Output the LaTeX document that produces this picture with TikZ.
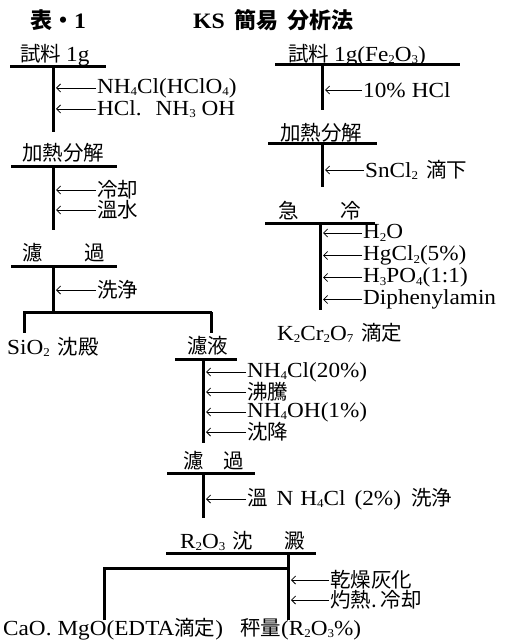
\documentclass[tikz,border=0pt]{standalone}
\usepackage{fontspec}
\setmainfont{Liberation Serif}[FakeStretch=1.08]
\newfontfamily\cjk{Noto Sans CJK JP}
\usetikzlibrary{arrows.meta}
\newcommand\jp[1]{{\cjk\fontsize{20.5}{22}\selectfont #1}}
\newcommand\jpt[1]{{\cjk\bfseries\fontsize{22}{24}\selectfont #1}}
\newcommand\sbs[1]{\raisebox{-2.5pt}{\fontsize{12}{12}\selectfont #1}}
\tikzset{
  bar/.style={line width=3pt},
  vline/.style={line width=3pt},
  arr/.style={line width=0.8pt, -{Straight Barb[length=4pt,width=8pt]}, shorten >=3pt, shorten <=1pt},
  lbl/.style={anchor=west, inner sep=0pt, font=\fontsize{21.5}{23}\selectfont},
}
\begin{document}
\begin{tikzpicture}[x=1pt,y=-1pt]
\useasboundingbox[fill=white] (0,0) rectangle (508,644);

% titles
\node[lbl, font=\fontsize{22}{24}\selectfont\bfseries] (ta) at (30,20) {\jpt{表・}1};
\node[lbl, font=\fontsize{22}{24}\selectfont\bfseries] (tb) at (193,20) {KS\hspace{10pt}\jpt{簡易}\hspace{9pt}\jpt{分析法}};

% ---------------- left column ----------------
\node[lbl] (s1) at (20,55) {\jp{試料}\hspace{5pt}1g};
\coordinate (b1l) at (10,67); \coordinate (b1r) at (106,67);
\draw[bar] (b1l) -- (b1r);
\coordinate (v1t) at (53,67); \coordinate (v1b) at (53,132);
\draw[vline] (v1t) -- (v1b);
\node[lbl] (a1) at (97,88) {NH\sbs{4}Cl(HClO\sbs{4})};
\node[lbl] (a2) at (97,109) {HCl.\hspace{14pt}NH\sbs{3} OH};
\draw[arr] (a1.west) -- (a1.west -| v1t);
\draw[arr] (a2.west) -- (a2.west -| v1t);

\node[lbl] (s2) at (22,153) {\jp{加熱分解}};
\coordinate (b2l) at (11,167); \coordinate (b2r) at (117,167);
\draw[bar] (b2l) -- (b2r);
\coordinate (v2t) at (53,167); \coordinate (v2b) at (53,230);
\draw[vline] (v2t) -- (v2b);
\node[lbl] (a3) at (97,190) {\jp{冷却}};
\node[lbl] (a4) at (97,210) {\jp{溫水}};
\draw[arr] (a3.west) -- (a3.west -| v2t);
\draw[arr] (a4.west) -- (a4.west -| v2t);

\node[lbl] (s3) at (22,253) {\jp{濾}\hspace{42pt}\jp{過}};
\coordinate (b3l) at (11,266); \coordinate (b3r) at (117,266);
\draw[bar] (b3l) -- (b3r);
\coordinate (v3t) at (53,266); \coordinate (v3b) at (53,312);
\draw[vline] (v3t) -- (v3b);
\node[lbl] (a5) at (97,290) {\jp{洗浄}};
\draw[arr] (a5.west) -- (a5.west -| v3t);

\coordinate (sl) at (23,312); \coordinate (sr) at (212,312);
\draw[bar] (sl) -- (sr);
\coordinate (dl) at (24,333); \coordinate (dr) at (211,333);
\draw[vline] (24,312) -- (dl);
\draw[vline] (211,312) -- (dr);

\node[lbl] (sio) at (7,347) {SiO\sbs{2}\hspace{8pt}\jp{沈殿}};
\node[lbl] (fil) at (187,346) {\jp{濾液}};
\coordinate (b4l) at (175,359); \coordinate (b4r) at (237,359);
\draw[bar] (b4l) -- (b4r);
\coordinate (v4t) at (203,359); \coordinate (v4b) at (203,443);
\draw[vline] (v4t) -- (v4b);
\node[lbl] (a6) at (247,372) {NH\sbs{4}Cl(20\%)};
\node[lbl] (a7) at (247,392) {\jp{沸騰}};
\node[lbl] (a8) at (247,412) {NH\sbs{4}OH(1\%)};
\node[lbl] (a9) at (247,432) {\jp{沈降}};
\foreach \n in {a6,a7,a8,a9} \draw[arr] (\n.west) -- (\n.west -| v4t);

\node[lbl] (s5) at (183,461) {\jp{濾}\hspace{20pt}\jp{過}};
\coordinate (b5l) at (167,473); \coordinate (b5r) at (255,473);
\draw[bar] (b5l) -- (b5r);
\coordinate (v5t) at (203,473); \coordinate (v5b) at (203,518);
\draw[vline] (v5t) -- (v5b);
\node[lbl] (a10) at (247,499) {\jp{溫}\hspace{9pt}N\hspace{7pt}H\sbs{4}Cl\hspace{9pt}(2\%)\hspace{10pt}\jp{洗浄}};
\draw[arr] (a10.west) -- (a10.west -| v5t);

\node[lbl] (s6) at (180,541) {R\sbs{2}O\sbs{3}\hspace{7pt}\jp{沈}\hspace{32pt}\jp{澱}};
\coordinate (b6l) at (166,553); \coordinate (b6r) at (316,553);
\draw[bar] (b6l) -- (b6r);
\coordinate (v6t) at (288,553); \coordinate (v6b) at (288,620);
\draw[vline] (v6t) -- (v6b);
\coordinate (hl) at (103,568); \coordinate (hr) at (289,568);
\draw[bar] (hl) -- (hr);
\coordinate (v7b) at (104,620);
\draw[vline] (104,568) -- (v7b);
\node[lbl] (a11) at (330,580) {\jp{乾燥灰化}};
\node[lbl] (a12) at (330,600) {\jp{灼熱.}\hspace{4pt}\jp{冷却}};
\draw[arr] (a11.west) -- (a11.west -| v6t);
\draw[arr] (a12.west) -- (a12.west -| v6t);

\node[lbl] (r1) at (3,629) {CaO.\hspace{6pt}MgO(EDTA\jp{滴定})};
\node[lbl] (r2) at (240,629) {\jp{秤量}(R\sbs{2}O\sbs{3}\%)};

% ---------------- right column ----------------
\node[lbl] (u1) at (288,55) {\jp{試料}\hspace{5pt}1g(Fe\sbs{2}O\sbs{3})};
\coordinate (c1l) at (275,65); \coordinate (c1r) at (460,65);
\draw[bar] (c1l) -- (c1r);
\coordinate (w1t) at (322,65); \coordinate (w1b) at (322,110);
\draw[vline] (w1t) -- (w1b);
\node[lbl] (e1) at (363,90) {10\%\hspace{6pt}HCl};
\draw[arr] (e1.west) -- (e1.west -| w1t);

\node[lbl] (u2) at (280,133) {\jp{加熱分解}};
\coordinate (c2l) at (268,144); \coordinate (c2r) at (377,144);
\draw[bar] (c2l) -- (c2r);
\coordinate (w2t) at (322,144); \coordinate (w2b) at (322,187);
\draw[vline] (w2t) -- (w2b);
\node[lbl] (e2) at (365,170) {SnCl\sbs{2}\hspace{8pt}\jp{滴下}};
\draw[arr] (e2.west) -- (e2.west -| w2t);

\node[lbl] (u3) at (278,211) {\jp{急}\hspace{42pt}\jp{冷}};
\coordinate (c3l) at (265,223); \coordinate (c3r) at (375,223);
\draw[bar] (c3l) -- (c3r);
\coordinate (w3t) at (320,223); \coordinate (w3b) at (320,310);
\draw[vline] (w3t) -- (w3b);
\node[lbl] (e3) at (363,233) {H\sbs{2}O};
\node[lbl] (e4) at (363,255.5) {HgCl\sbs{2}(5\%)};
\node[lbl] (e5) at (363,277.5) {H\sbs{3}PO\sbs{4}(1:1)};
\node[lbl] (e6) at (363,299.5) {Diphenylamin};
\foreach \n in {e3,e4,e5,e6} \draw[arr] (\n.west) -- (\n.west -| w3t);

\node[lbl] (u4) at (277,333) {K\sbs{2}Cr\sbs{2}O\sbs{7}\hspace{8pt}\jp{滴定}};
\end{tikzpicture}
\end{document}
